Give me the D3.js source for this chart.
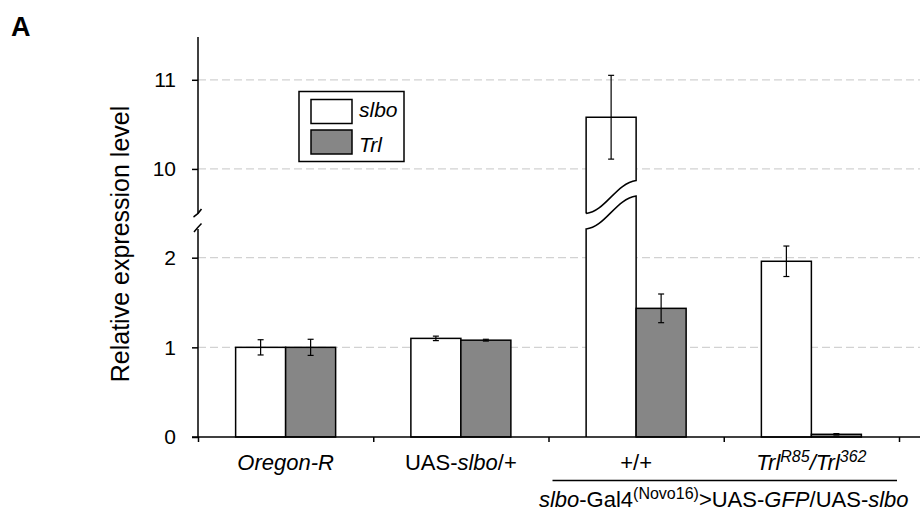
<!DOCTYPE html>
<html>
<head>
<meta charset="utf-8">
<script src="https://cdn.jsdelivr.net/npm/d3@7"></script>
<style>
  html, body { margin: 0; padding: 0; background: #fff; }
  svg { display: block; }
  text { font-family: "Liberation Sans", Arial, Helvetica, sans-serif; fill: #000; }
</style>
</head>
<body>
<svg id="chart" width="920" height="514"></svg>
<script>
// ---------- data ----------
const groups = ["Oregon-R", "UAS-slbo/+", "+/+", "TrlR85/Trl362"];
const series = ["slbo", "Trl"];
const slboValues = [1.00, 1.10, 10.58, 1.96];
const slboErrors = [0.085, 0.025, 0.47, 0.17];
const trlValues  = [1.00, 1.08, 1.435, 0.03];
const trlErrors  = [0.09, 0.01, 0.16, 0.008];
const lowerTicks = [0, 1, 2];
const upperTicks = [10, 11];
const lowerDomain = [0, 2.32];
const upperDomain = [9.5, 11.48];
const groupLabels = [
  [{t: "Oregon-R", i: true}],
  [{t: "UAS-"}, {t: "slbo", i: true}, {t: "/+"}],
  [{t: "+/+"}],
  [{t: "Trl", i: true}, {t: "R85", i: true, sup: true}, {t: "/", i: true}, {t: "Trl", i: true}, {t: "362", i: true, sup: true}]
];
const bracketLabel = [
  {t: "slbo", i: true}, {t: "-Gal4"}, {t: "(Novo16)", sup: true}, {t: ">UAS-"},
  {t: "GFP", i: true}, {t: "/UAS-"}, {t: "slbo", i: true}
];
const yTitle = "Relative expression level";
const panelLabel = "A";

// ---------- layout ----------
const svg = d3.select("#chart");
const axisX = 198, axisY = 437, rightEdge = 920;
const barW = 50;
const fills = {slbo: "#ffffff", Trl: "#868686"};
const valuesBySeries = {slbo: slboValues, Trl: trlValues};
const errorsBySeries = {slbo: slboErrors, Trl: trlErrors};

const yLow = d3.scaleLinear().domain(lowerDomain).range([axisY, 229]);
const yHigh = d3.scaleLinear().domain(upperDomain).range([213.5, 37]);
const Y = v => v <= lowerDomain[1] ? yLow(v) : yHigh(v);

const x = d3.scaleBand().domain(groups).range([axisX, 899]).padding(0);
const bw = x.bandwidth();
const xs = d3.scaleBand().domain(series).range([bw / 2 - barW, bw / 2 + barW]).padding(0);
const xb = d3.scaleLinear().domain([0, groups.length]).range([axisX, 899]);

// gridlines
const grid = svg.append("g");
lowerTicks.filter(d => d > 0).forEach(d => {
  grid.append("line").attr("x1", axisX).attr("x2", rightEdge)
    .attr("y1", yLow(d)).attr("y2", yLow(d));
});
upperTicks.forEach(d => {
  grid.append("line").attr("x1", axisX).attr("x2", rightEdge)
    .attr("y1", yHigh(d)).attr("y2", yHigh(d));
});
grid.selectAll("line").attr("stroke", "#d2d2d2").attr("stroke-width", 1.2)
  .attr("stroke-dasharray", "8,4");

// bars
const barsG = svg.append("g");
const rise = 33;
function sCurve(x0, y0, x1, y1) {
  const w = x1 - x0, dy = y1 - y0;
  return `C${x0 + 0.38 * w},${y0 + 0.06 * dy} ${x0 + 0.6 * w},${y0 + 0.92 * dy} ${x1},${y1}`;
}
function sCurveRev(x1, y1, x0, y0) {
  // from right (x1,y1) back to left (x0,y0) along the same curve
  const w = x1 - x0, dy = y1 - y0;
  return `C${x0 + 0.6 * w},${y0 + 0.92 * dy} ${x0 + 0.38 * w},${y0 + 0.06 * dy} ${x0},${y0}`;
}
groups.forEach((g, gi) => {
  series.forEach(s => {
    const v = valuesBySeries[s][gi];
    const xL = x(g) + xs(s), xR = xL + xs.bandwidth();
    const base = yLow(0);
    if (v <= lowerDomain[1]) {
      barsG.append("rect").attr("x", xL).attr("y", yLow(v))
        .attr("width", xR - xL).attr("height", base - yLow(v))
        .attr("fill", fills[s]).attr("stroke", "#000").attr("stroke-width", 1.5);
    } else {
      const lt = yLow(lowerDomain[1]);
      const ub = yHigh(upperDomain[0]);
      // lower part
      barsG.append("path")
        .attr("d", `M${xL},${base} L${xL},${lt} ${sCurve(xL, lt, xR, lt - rise)} L${xR},${base}`)
        .attr("fill", fills[s]).attr("stroke", "#000").attr("stroke-width", 1.5);
      // upper part
      barsG.append("path")
        .attr("d", `M${xL},${ub} L${xL},${yHigh(v)} L${xR},${yHigh(v)} L${xR},${ub - rise} ${sCurveRev(xR, ub - rise, xL, ub)}`)
        .attr("fill", fills[s]).attr("stroke", "#000").attr("stroke-width", 1.5);
    }
    // error bar
    const e = errorsBySeries[s][gi];
    const cx = (xL + xR) / 2;
    const yt = Y(v + e), yb = Y(v - e);
    const eb = barsG.append("g").attr("stroke", "#000").attr("stroke-width", 1.2);
    eb.append("line").attr("x1", cx).attr("x2", cx).attr("y1", yt).attr("y2", yb);
    eb.append("line").attr("x1", cx - 3).attr("x2", cx + 3).attr("y1", yt).attr("y2", yt);
    eb.append("line").attr("x1", cx - 3).attr("x2", cx + 3).attr("y1", yb).attr("y2", yb);
  });
});

// y axes
function styleAxis(sel) {
  sel.select(".domain").remove();
  sel.selectAll(".tick line").attr("stroke", "#000").attr("stroke-width", 1.5);
  sel.selectAll(".tick text").style("font-size", "21px")
    .style("font-family", '"Liberation Sans", Arial, sans-serif').attr("fill", "#000");
}
svg.append("g").attr("transform", `translate(${axisX},0)`)
  .call(d3.axisLeft(yLow).tickValues(lowerTicks).tickSize(6).tickPadding(16).tickFormat(d3.format("d")))
  .call(styleAxis);
svg.append("g").attr("transform", `translate(${axisX},0)`)
  .call(d3.axisLeft(yHigh).tickValues(upperTicks).tickSize(6).tickPadding(16).tickFormat(d3.format("d")))
  .call(styleAxis);

const axisG = svg.append("g").attr("stroke", "#000").attr("stroke-width", 1.5).attr("fill", "none");
axisG.append("line").attr("x1", axisX).attr("x2", axisX).attr("y1", yHigh(upperDomain[1])).attr("y2", yHigh(upperDomain[0]));
axisG.append("line").attr("x1", axisX).attr("x2", axisX).attr("y1", yLow(lowerDomain[1])).attr("y2", yLow(0));
// break marks
axisG.append("path").attr("d", `M${axisX - 4.5},${yHigh(upperDomain[0]) + 3.5} Q${axisX},${yHigh(upperDomain[0]) + 1} ${axisX + 3.5},${yHigh(upperDomain[0]) - 4.5}`);
axisG.append("path").attr("d", `M${axisX - 4},${yLow(lowerDomain[1]) + 3} Q${axisX},${yLow(lowerDomain[1]) - 2} ${axisX + 3.5},${yLow(lowerDomain[1]) - 5.5}`);

// x axis
const xAxisG = svg.append("g").attr("transform", `translate(0,${axisY})`)
  .call(d3.axisBottom(xb).tickValues(d3.range(groups.length + 1)).tickSize(5).tickSizeOuter(0).tickFormat(""));
xAxisG.select(".domain").remove();
xAxisG.selectAll(".tick line").attr("stroke", "#000").attr("stroke-width", 1.5);
svg.append("line").attr("x1", axisX - 6).attr("x2", rightEdge).attr("y1", axisY).attr("y2", axisY)
  .attr("stroke", "#000").attr("stroke-width", 1.5);

// rich text helper
function richText(parent, segs, size, supSize) {
  const t = parent.append("text").attr("text-anchor", "middle").style("font-size", size + "px");
  let raised = false;
  segs.forEach(sg => {
    const ts = t.append("tspan").text(sg.t).style("font-style", sg.i ? "italic" : "normal");
    if (sg.sup && !raised) { ts.attr("dy", -8).style("font-size", supSize + "px"); raised = true; }
    else if (sg.sup && raised) { ts.style("font-size", supSize + "px"); }
    else if (!sg.sup && raised) { ts.attr("dy", 8); raised = false; }
  });
  return t;
}

// x labels
groups.forEach((g, gi) => {
  const t = richText(svg, groupLabels[gi], 22, 16);
  t.attr("x", x(g) + bw / 2).attr("y", 470);
  t.select("tspan").attr("x", x(g) + bw / 2);
});

// bracket line + label
const x3 = x(groups[2]), x4 = x(groups[3]) + bw;
svg.append("line").attr("x1", x3 + 4).attr("x2", x4 - 2).attr("y1", 480.5).attr("y2", 480.5)
  .attr("stroke", "#000").attr("stroke-width", 1.5);
const bt = richText(svg, bracketLabel, 22, 16);
bt.attr("x", (x3 + x4) / 2).attr("y", 507);

// y title
svg.append("text").attr("transform", "translate(129,244) rotate(-90)")
  .attr("text-anchor", "middle").style("font-size", "25px").text(yTitle);

// panel label
svg.append("text").attr("x", 11).attr("y", 36).style("font-size", "27px")
  .style("font-weight", "bold").text(panelLabel);

// legend
const lg = svg.append("g");
lg.append("rect").attr("x", 299).attr("y", 91.5).attr("width", 105).attr("height", 70)
  .attr("fill", "#fff").attr("stroke", "#000").attr("stroke-width", 1.5);
series.forEach((s, i) => {
  lg.append("rect").attr("x", 311).attr("y", 99.5 + i * 30.5).attr("width", 41).attr("height", 24)
    .attr("fill", fills[s]).attr("stroke", "#000").attr("stroke-width", 1.5);
  lg.append("text").attr("x", 359).attr("y", 117 + i * 35).style("font-size", "21px")
    .style("font-style", "italic").text(s);
});
</script>
</body>
</html>
